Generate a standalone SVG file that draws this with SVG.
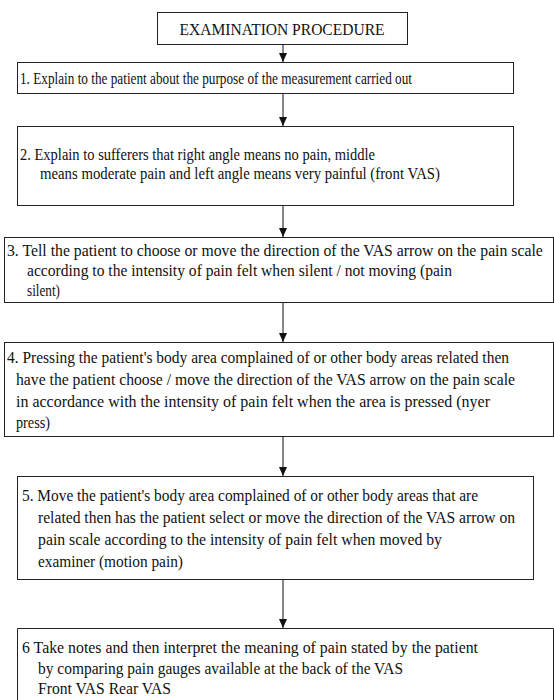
<svg xmlns="http://www.w3.org/2000/svg" width="554" height="700" viewBox="0 0 554 700">
<defs>
<style>
.box{fill:#fff;stroke:#222;stroke-width:1}
.t{font-family:"Liberation Serif","Times New Roman",serif;font-size:16.5px;fill:#111}
.h{font-family:"Liberation Serif","Times New Roman",serif;font-size:17px;fill:#111}
.c{stroke:#111;stroke-width:1;fill:none}
</style>
<marker id="ah" markerWidth="10" markerHeight="10" refX="9" refY="5" orient="auto" markerUnits="userSpaceOnUse">
<path d="M0,1 L9,5 L0,9 Z" fill="#111"/>
</marker>
</defs>
<rect width="554" height="700" fill="#fff"/>
<g id="connectors">
<line class="c" x1="283" y1="45" x2="283" y2="62" marker-end="url(#ah)"/>
<line class="c" x1="283" y1="94" x2="283" y2="126" marker-end="url(#ah)"/>
<line class="c" x1="283" y1="206" x2="283" y2="237" marker-end="url(#ah)"/>
<line class="c" x1="283" y1="302" x2="283" y2="342" marker-end="url(#ah)"/>
<line class="c" x1="283" y1="437" x2="283" y2="476" marker-end="url(#ah)"/>
<line class="c" x1="283" y1="580" x2="283" y2="628" marker-end="url(#ah)"/>
</g>
<g id="start">
<rect class="box" x="157.5" y="12.5" width="250" height="32"/>
<text class="h" x="282" y="35" text-anchor="middle" textLength="205" lengthAdjust="spacingAndGlyphs">EXAMINATION PROCEDURE</text>
</g>
<g id="step1">
<rect class="box" x="17.5" y="62.5" width="496" height="31"/>
<text class="t" x="20" y="84" textLength="392" lengthAdjust="spacingAndGlyphs">1. Explain to the patient about the purpose of the measurement carried out</text>
</g>
<g id="step2">
<rect class="box" x="17.5" y="126.5" width="496" height="79"/>
<text class="t" x="20" y="160" textLength="355" lengthAdjust="spacingAndGlyphs">2. Explain to sufferers that right angle means no pain, middle</text>
<text class="t" x="40" y="179" textLength="400" lengthAdjust="spacingAndGlyphs">means moderate pain and left angle means very painful (front VAS)</text>
</g>
<g id="step3">
<rect class="box" x="4.5" y="237.5" width="549" height="65"/>
<text class="t" transform="translate(7,256) scale(0.86,1)" x="0" y="0" textLength="623" lengthAdjust="spacingAndGlyphs">3. Tell the patient to choose or move the direction of the VAS arrow on the pain scale</text>
<text class="t" x="27" y="276" textLength="425" lengthAdjust="spacingAndGlyphs">according to the intensity of pain felt when silent / not moving (pain</text>
<text class="t" x="27" y="296" textLength="33" lengthAdjust="spacingAndGlyphs">silent)</text>
</g>
<g id="step4">
<rect class="box" x="4.5" y="342.5" width="549" height="94"/>
<text class="t" x="7" y="363" textLength="502" lengthAdjust="spacingAndGlyphs">4. Pressing the patient's body area complained of or other body areas related then</text>
<text class="t" x="16" y="385" textLength="499" lengthAdjust="spacingAndGlyphs">have the patient choose / move the direction of the VAS arrow on the pain scale</text>
<text class="t" x="16" y="407" textLength="474" lengthAdjust="spacingAndGlyphs">in accordance with the intensity of pain felt when the area is pressed (nyer</text>
<text class="t" x="16" y="428" textLength="34" lengthAdjust="spacingAndGlyphs">press)</text>
</g>
<g id="step5">
<rect class="box" x="17.5" y="476.5" width="516" height="103"/>
<text class="t" x="22" y="501" textLength="456" lengthAdjust="spacingAndGlyphs">5. Move the patient's body area complained of or other body areas that are</text>
<text class="t" x="38" y="523" textLength="477" lengthAdjust="spacingAndGlyphs">related then has the patient select or move the direction of the VAS arrow on</text>
<text class="t" x="38" y="545" textLength="404" lengthAdjust="spacingAndGlyphs">pain scale according to the intensity of pain felt when moved by</text>
<text class="t" x="38" y="567" textLength="145" lengthAdjust="spacingAndGlyphs">examiner (motion pain)</text>
</g>
<g id="step6">
<path class="box" d="M17.5,700 V628.5 H553.5 V700"/>
<text class="t" x="22" y="653" textLength="456" lengthAdjust="spacingAndGlyphs">6 Take notes and then interpret the meaning of pain stated by the patient</text>
<text class="t" x="38" y="674" textLength="365" lengthAdjust="spacingAndGlyphs">by comparing pain gauges available at the back of the VAS</text>
<text class="t" x="38" y="694" textLength="133" lengthAdjust="spacingAndGlyphs">Front VAS Rear VAS</text>
</g>
</svg>
